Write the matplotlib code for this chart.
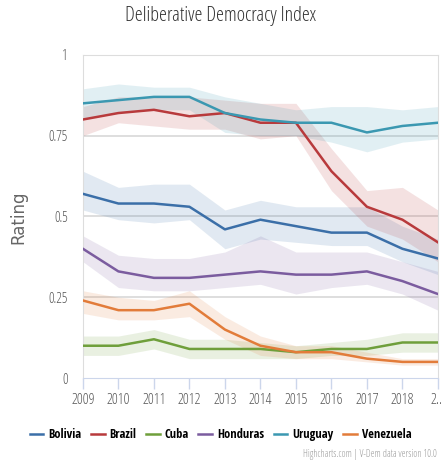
import matplotlib.pyplot as plt
import numpy as np

# Deliberative democracy index, estimates with confidence intervals
years = np.arange(2009, 2020)
year_labels = ['2009', '2010', '2011', '2012', '2013', '2014', '2015',
               '2016', '2017', '2018', '2...']

countries = ['Bolivia', 'Brazil', 'Cuba', 'Honduras', 'Uruguay', 'Venezuela']
colors = ['#3b6fa8', '#b83a3c', '#6f9f3b', '#7b5c9f', '#3b98b1', '#e27c3a']

bolivia = [0.57, 0.54, 0.54, 0.53, 0.46, 0.49, 0.47, 0.45, 0.45, 0.40, 0.37]
bolivia_lo = [0.52, 0.49, 0.48, 0.49, 0.40, 0.43, 0.42, 0.41, 0.41, 0.36, 0.32]
bolivia_hi = [0.64, 0.59, 0.60, 0.60, 0.52, 0.55, 0.53, 0.53, 0.53, 0.47, 0.43]

brazil = [0.80, 0.82, 0.83, 0.81, 0.82, 0.79, 0.79, 0.64, 0.53, 0.49, 0.42]
brazil_lo = [0.75, 0.79, 0.78, 0.77, 0.77, 0.74, 0.75, 0.58, 0.47, 0.43, 0.36]
brazil_hi = [0.84, 0.87, 0.87, 0.87, 0.86, 0.85, 0.85, 0.71, 0.58, 0.59, 0.52]

cuba = [0.10, 0.10, 0.12, 0.09, 0.09, 0.09, 0.08, 0.09, 0.09, 0.11, 0.11]
cuba_lo = [0.07, 0.07, 0.09, 0.06, 0.06, 0.06, 0.06, 0.07, 0.07, 0.08, 0.08]
cuba_hi = [0.13, 0.13, 0.15, 0.12, 0.12, 0.11, 0.10, 0.11, 0.12, 0.14, 0.14]

honduras = [0.40, 0.33, 0.31, 0.31, 0.32, 0.33, 0.32, 0.32, 0.33, 0.30, 0.26]
honduras_lo = [0.36, 0.28, 0.27, 0.27, 0.28, 0.29, 0.26, 0.28, 0.29, 0.26, 0.21]
honduras_hi = [0.44, 0.38, 0.37, 0.37, 0.39, 0.44, 0.39, 0.39, 0.39, 0.36, 0.33]

uruguay = [0.85, 0.86, 0.87, 0.87, 0.82, 0.80, 0.79, 0.79, 0.76, 0.78, 0.79]
uruguay_lo = [0.80, 0.82, 0.83, 0.83, 0.76, 0.75, 0.75, 0.73, 0.70, 0.73, 0.74]
uruguay_hi = [0.895, 0.91, 0.90, 0.90, 0.87, 0.85, 0.83, 0.84, 0.84, 0.83, 0.84]

venezuela = [0.24, 0.21, 0.21, 0.23, 0.15, 0.10, 0.08, 0.08, 0.06, 0.05, 0.05]
venezuela_lo = [0.20, 0.18, 0.18, 0.19, 0.12, 0.07, 0.06, 0.06, 0.05, 0.04, 0.04]
venezuela_hi = [0.27, 0.25, 0.24, 0.27, 0.19, 0.13, 0.10, 0.10, 0.08, 0.06, 0.06]

values = [bolivia, brazil, cuba, honduras, uruguay, venezuela]
lows = [bolivia_lo, brazil_lo, cuba_lo, honduras_lo, uruguay_lo, venezuela_lo]
highs = [bolivia_hi, brazil_hi, cuba_hi, honduras_hi, uruguay_hi, venezuela_hi]

plt.rcParams['font.family'] = ['Open Sans', 'DejaVu Sans']
plt.rcParams['font.stretch'] = 'condensed'

fig = plt.figure(figsize=(4.41, 4.65), dpi=100)
ax = fig.add_axes([0.188, 0.187, 0.805, 0.695])

# grid lines
for g in [0.25, 0.5, 0.75]:
    ax.axhline(g, color='#d8d8d8', lw=1.2, zorder=0)

# bands then lines
for c, lo, hi in zip(colors, lows, highs):
    ax.fill_between(years, lo, hi, color=c, alpha=0.15, lw=0, zorder=1)
for name, c, v in zip(countries, colors, values):
    ax.plot(years, v, color=c, lw=1.8, label=name, zorder=3)

ax.set_xlim(2009, 2019)
ax.set_ylim(0, 1)
ax.set_yticks([0, 0.25, 0.5, 0.75, 1])
ax.set_yticklabels(['0', '0.25', '0.5', '0.75', '1'])
ax.set_xticks(years)
ax.set_xticklabels(year_labels)
ax.tick_params(axis='y', length=0, pad=11, labelsize=10, labelcolor='#555555')
ax.tick_params(axis='x', length=8, width=1, color='#ccd6eb', pad=3,
               labelsize=10.5, labelcolor='#555555')
for side in ['top', 'right', 'left']:
    ax.spines[side].set_color('#dddddd')
ax.spines['bottom'].set_color('#ccd6eb')

fig.text(0.042, 0.533, 'Rating', rotation=90, ha='center', va='center',
         fontsize=12, color='#666666', family='DejaVu Sans',
         fontstretch='normal')

fig.text(0.5, 0.965, 'Deliberative Democracy Index', ha='center', va='center',
         fontsize=14.5, color='#333333')

fig.legend(loc='center', bbox_to_anchor=(0.5, 0.065), ncol=6, frameon=False,
           handlelength=1.1, handletextpad=0.4, columnspacing=0.75,
           prop={'family': 'Open Sans Condensed', 'weight': 'bold',
                 'size': 9})

fig.text(0.99, 0.022, 'Highcharts.com | V-Dem data version 10.0', ha='right',
         va='center', fontsize=7, color='#999999')

fig.savefig('out.png', dpi=100)
